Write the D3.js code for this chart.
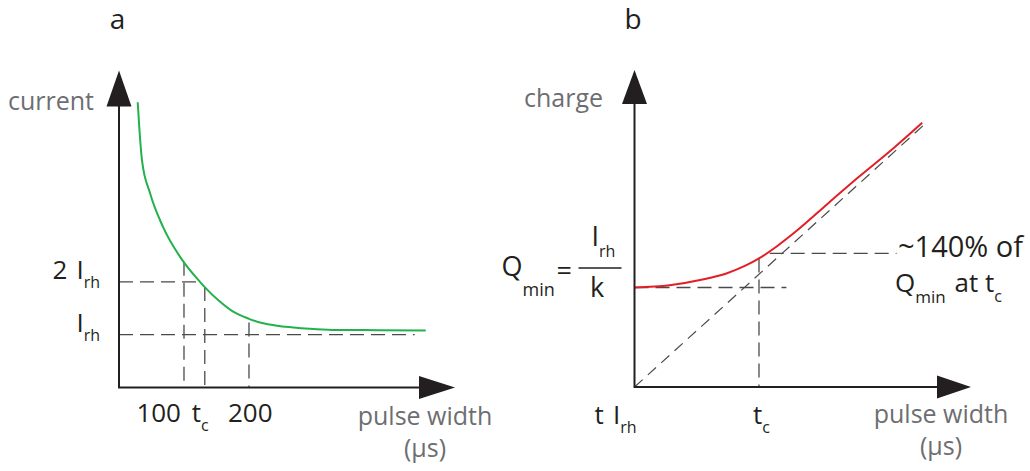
<!DOCTYPE html>
<html>
<head>
<meta charset="utf-8">
<script src="https://cdn.jsdelivr.net/npm/d3@7"></script>
<style>
  html, body { margin: 0; padding: 0; background: #fff; }
  svg { display: block; }
  text { font-family: "Open Sans", "Noto Sans", sans-serif; }
</style>
</head>
<body>
<svg id="chart" width="1030" height="471"></svg>
<script>
// ---- Panel a: strength–duration curve (current vs pulse width in µs) ----
const pulseWidthA = [28.8, 31.5, 35.4, 47.7, 67.7, 96.9, 124.6, 132.3, 153.8, 175, 200, 220, 243, 265, 293.8, 329, 400, 472];
const currentA    = [5.40, 4.87, 4.30, 3.68, 3.04, 2.42, 2.00, 1.895, 1.64, 1.44, 1.30, 1.22, 1.17, 1.14, 1.11, 1.09, 1.085, 1.08];
const rheobase = 1;        // I_rh
const chronaxie = 132;     // t_c in µs
const xTicksA = [100, chronaxie, 200];
const xTickLabelsA = [[{ text: "100" }], [{ text: "t" }, { text: "c", sub: true }], [{ text: "200" }]];
const yTicksA = [2 * rheobase, rheobase];
const yTickLabelsA = [[{ text: "2" }, { text: "I", dx: 9 }, { text: "rh", sub: true }], [{ text: "I" }, { text: "rh", sub: true }]];
// guide lines: [x1, y1, x2, y2] in data units
const guidesA = [
  [0, 2 * rheobase, 124.6, 2 * rheobase],
  [0, rheobase, 455, rheobase],
  [100, 2.38, 100, 0],
  [chronaxie, 1.9, chronaxie, 0],
  [200, 1.23, 200, 0]
];

// ---- Panel b: charge vs pulse width (t in units of t_c, Q in units of Q_min) ----
const pulseWidthB = [0, 0.282, 0.547, 0.738, 0.899, 1.0, 1.15, 1.3, 1.55, 1.8, 2.08, 2.311];
const chargeB     = [1.00, 1.023, 1.080, 1.141, 1.224, 1.292, 1.42, 1.567, 1.84, 2.11, 2.40, 2.656];
const asymptoteB  = [[0, 0], [2.333, 2.643]];   // Q = I_rh · t
const qAtTc = 1.342;
const guidesB = [
  [0, 1, 1.22, 1],
  [1, 1.292, 1, 0],
  [1.086, qAtTc, 2.105, qAtTc]
];
const xTicksB = [0, 1];
const xTickLabelsB = [[{ text: "t" }, { text: "I", dx: 9 }, { text: "rh", sub: true }], [{ text: "t" }, { text: "c", sub: true }]];

const DARK = "#231f20", GREY = "#6d6e71", DASH = "#4a4a4a";
const svg = d3.select("#chart");
svg.append("rect").attr("width", 1030).attr("height", 471).attr("fill", "#fff");

// text with optional subscripts
function richText(g, x, y, parts, o) {
  const t = g.append("text").attr("x", x).attr("y", y)
    .attr("font-size", o.size || 25).attr("fill", o.fill || DARK)
    .attr("text-anchor", o.anchor || "start");
  let shift = 0;
  parts.forEach(p => {
    const ts = t.append("tspan").text(p.text);
    const target = p.sub ? (p.drop != null ? p.drop : (o.drop || 9)) : 0;
    if (target !== shift) ts.attr("dy", target - shift);
    shift = target;
    if (p.sub) ts.attr("font-size", p.size || o.subSize || 16);
    if (p.dx) ts.attr("dx", p.dx);
  });
  return t;
}

function drawAxes(g, x, y, arrowLen, halfW) {
  const x0 = x.range()[0], x1 = x.range()[1];
  const y0 = y.range()[0], y1 = y.range()[1];
  g.append("path").attr("d", `M${x0},${y1 + arrowLen}V${y0}H${x1 - arrowLen}`)
    .attr("fill", "none").attr("stroke", DARK).attr("stroke-width", 2);
  g.append("path").attr("d", `M${x0},${y1}L${x0 - halfW},${y1 + arrowLen + 1}L${x0 + halfW},${y1 + arrowLen + 1}Z`).attr("fill", DARK);
  g.append("path").attr("d", `M${x1},${y0}L${x1 - arrowLen - 1},${y0 - halfW + 1}L${x1 - arrowLen - 1},${y0 + halfW - 1}Z`).attr("fill", DARK);
}

function drawGuides(g, x, y, guides) {
  g.selectAll(null).data(guides).join("line")
    .attr("x1", d => x(d[0])).attr("y1", d => y(d[1]))
    .attr("x2", d => x(d[2])).attr("y2", d => y(d[3]))
    .attr("stroke", DASH).attr("stroke-width", 1.3).attr("stroke-dasharray", "14 7");
}

// ================= Panel a =================
const xA = d3.scaleLinear().domain([0, 517]).range([119, 455]);
const yA = d3.scaleLinear().domain([0, 6]).range([387.5, 70.5]);
const gA = svg.append("g");

drawGuides(gA, xA, yA, guidesA);
gA.append("path")
  .datum(pulseWidthA.map((t, i) => [t, currentA[i]]))
  .attr("d", d3.line().x(d => xA(d[0])).y(d => yA(d[1])).curve(d3.curveMonotoneX))
  .attr("fill", "none").attr("stroke", "#22b14c").attr("stroke-width", 2);
drawAxes(gA, xA, yA, 35, 12.5);

const tickLayoutA = [{ anchor: "end", dx: -3 }, { anchor: "start", dx: -13 }, { anchor: "start", dx: -21 }];
xTicksA.forEach((v, i) => richText(gA, xA(v) + tickLayoutA[i].dx, yA(0) + 34, xTickLabelsA[i], { anchor: tickLayoutA[i].anchor, size: 26 }));
yTicksA.forEach((v, i) => richText(gA, xA(0) - 19, yA(v) - 3, yTickLabelsA[i], { anchor: "end", size: 26 }));

richText(gA, 8, 110, [{ text: "current" }], { fill: GREY });
richText(gA, 425, 425, [{ text: "pulse width" }], { fill: GREY, anchor: "middle" });
richText(gA, 425, 457, [{ text: "(µs)" }], { fill: GREY, anchor: "middle" });
gA.append("text").attr("x", 117.5).attr("y", 29).attr("text-anchor", "middle")
  .attr("font-family", "'Liberation Sans', Arial, sans-serif").attr("font-size", 28).attr("fill", DARK).text("a");

// ================= Panel b =================
const xB = d3.scaleLinear().domain([0, 2.703]).range([634.5, 971]);
const yB = d3.scaleLinear().domain([0, 3.186]).range([387, 70]);
const gB = svg.append("g");

drawGuides(gB, xB, yB, guidesB);
gB.append("path")
  .datum(asymptoteB)
  .attr("d", d3.line().x(d => xB(d[0])).y(d => yB(d[1])))
  .attr("fill", "none").attr("stroke", DASH).attr("stroke-width", 1.2).attr("stroke-dasharray", "11 7");
gB.append("path")
  .datum(pulseWidthB.map((t, i) => [t, chargeB[i]]))
  .attr("d", d3.line().x(d => xB(d[0])).y(d => yB(d[1])).curve(d3.curveMonotoneX))
  .attr("fill", "none").attr("stroke", "#e31e26").attr("stroke-width", 2);
drawAxes(gB, xB, yB, 33, 12.5);

const tickLayoutB = [{ anchor: "end", dx: 2 }, { anchor: "start", dx: -6 }];
xTicksB.forEach((v, i) => richText(gB, xB(v) + tickLayoutB[i].dx, yB(0) + 37, xTickLabelsB[i], { anchor: tickLayoutB[i].anchor, size: 26 }));

richText(gB, 524, 107, [{ text: "charge" }], { fill: GREY });
richText(gB, 941, 422.5, [{ text: "pulse width" }], { fill: GREY, anchor: "middle" });
richText(gB, 941, 455, [{ text: "(µs)" }], { fill: GREY, anchor: "middle" });
gB.append("text").attr("x", 633).attr("y", 29).attr("text-anchor", "middle")
  .attr("font-family", "'Liberation Sans', Arial, sans-serif").attr("font-size", 28).attr("fill", DARK).text("b");

// Q_min = I_rh / k, placed beside the Q_min level
const qx = xB(0), qy = yB(1);
richText(gB, qx - 133, qy - 12, [{ text: "Q" }, { text: "min", sub: true, drop: 20, size: 18 }], { size: 27 });
richText(gB, qx - 78, qy - 8, [{ text: "=" }], { size: 27 });
gB.append("line").attr("x1", qx - 56).attr("x2", qx - 13).attr("y1", qy - 19.6).attr("y2", qy - 19.6)
  .attr("stroke", DARK).attr("stroke-width", 1.5);
richText(gB, qx - 43, qy - 42, [{ text: "I" }, { text: "rh", sub: true, drop: 11 }], { size: 27 });
richText(gB, qx - 37.5, qy + 9.5, [{ text: "k" }], { size: 27, anchor: "middle" });

// ~140% annotation next to its guide line
const ay = yB(qAtTc);
richText(gB, 898, ay + 3.4, [{ text: "~140% of" }], { size: 29 });
richText(gB, 895, ay + 39, [{ text: "Q" }, { text: "min", sub: true, drop: 11, size: 17 }, { text: " at t", dx: 2 }, { text: "c", sub: true, drop: 10 }], { size: 26 });
</script>
</body>
</html>
